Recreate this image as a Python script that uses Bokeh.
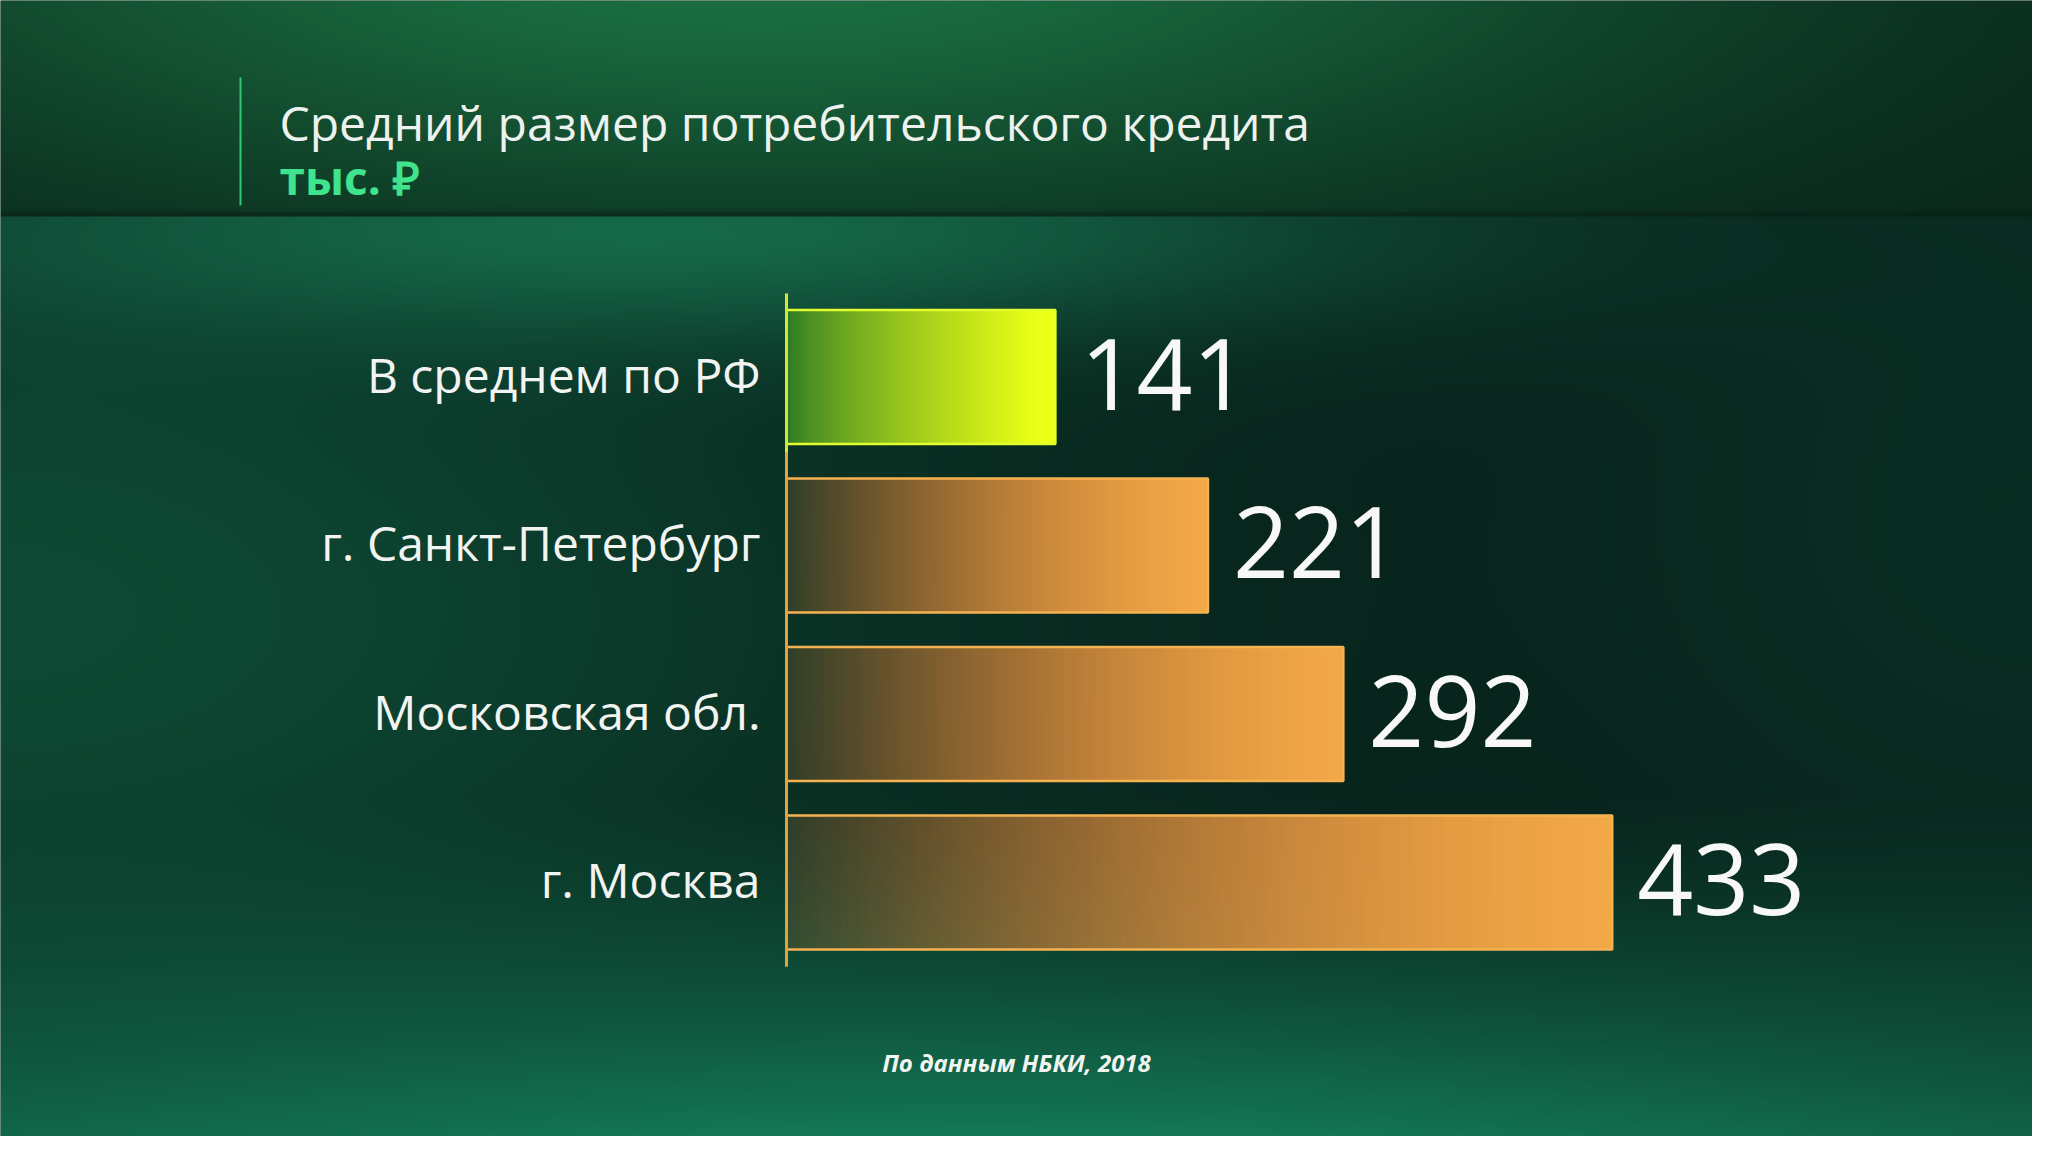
import numpy as np
from bokeh.plotting import figure
from bokeh.models import Range1d, Label
from bokeh.core.properties import value
from bokeh.embed import file_html
from bokeh.resources import INLINE

# ---------------- data ----------------
categories = ["В среднем по РФ", "г. Санкт-Петербург", "Московская обл.", "г. Москва"]
values = [141, 221, 292, 433]
value_labels = ["141", "221", "292", "433"]
title_text = "Средний размер потребительского кредита"
unit_text = "тыс. ₽"
source_text = "По данным НБКИ, 2018"

# ---------------- layout (canvas pixels) ----------------
W, H = 2032, 1136
AXIS_PX = 786          # canvas x of the value axis (value 0)
PX_PER_UNIT = 1.907    # pixels per thousand roubles
ROW_PX = 168.5         # pixels between category rows
BASE_PX = 882          # canvas y of lowest row centre
BAR_H = 0.795          # bar thickness in row units

x_start = -AXIS_PX / PX_PER_UNIT
x_end = (W - AXIS_PX) / PX_PER_UNIT
y_end = BASE_PX / ROW_PX
y_start = -(H - BASE_PX) / ROW_PX


def sx(px):
    return x_start + px / PX_PER_UNIT


def sy(py):
    return (BASE_PX - py) / ROW_PX


n = len(categories)
pos = [n - 1 - i for i in range(n)]

FONT = "Open Sans"

p = figure(width=W, height=H, x_range=Range1d(x_start, x_end), y_range=Range1d(y_start, y_end),
           x_axis_type=None, y_axis_type=None, toolbar_location=None, output_backend="svg",
           min_border=0, outline_line_color=None,
           background_fill_color="#0b2e23", border_fill_color="#0b2e23")
p.grid.visible = False


# ---------------- background ----------------
def to_rgba(rgb, alpha=None):
    h, w = rgb.shape[:2]
    out = np.empty((h, w, 4), dtype=np.uint8)
    out[..., :3] = np.clip(rgb, 0, 255).astype(np.uint8)
    out[..., 3] = 255 if alpha is None else np.clip(alpha * 255, 0, 255).astype(np.uint8)
    return out.view(np.uint32).reshape(h, w)


def lerp(c, col, f):
    return c + (np.array(col, dtype=float) - c) * f[..., None]


GW, GH = 508, 284
gx = (np.arange(GW) + 0.5) * W / GW + 8
gy = (np.arange(GH) + 0.5) * H / GH + 8
X, Y = np.meshgrid(gx, gy)

# header band
hdr = np.ones((GH, GW, 3)) * np.array([9, 36, 26], dtype=float)
f = np.exp(-((X - 760) / 950) ** 2 - ((Y + 40) / 260) ** 2)
hdr = lerp(hdr, (27, 112, 66), f)
edge = np.exp(-((Y - 224) / 5) ** 2)
hdr = lerp(hdr, (7, 28, 20), edge * 0.6)

# main area
main = np.ones((GH, GW, 3)) * np.array([8, 33, 26], dtype=float)
f1 = np.exp(-((X - 0) / 900) ** 2 - ((Y - 620) / 430) ** 2)
main = lerp(main, (14, 74, 53), f1)
f4 = 0.5 * np.exp(-((X - 2048) / 450) ** 2 - ((Y - 520) / 420) ** 2)
main = lerp(main, (12, 58, 44), f4)
f2 = np.exp(-((X - 650) / 760) ** 2 - ((Y - 240) / 110) ** 2)
main = lerp(main, (22, 104, 74), f2)
f3 = np.clip((Y - 800) / 352, 0, 1) ** 1.3 * (0.55 + 0.45 * np.exp(-((X - 1000) / 1100) ** 2))
main = lerp(main, (20, 124, 88), f3)

bg = np.where((Y < 226)[..., None], hdr, main)
bg_img = np.flipud(to_rgba(bg)).copy()
p.image_rgba(image=[bg_img], x=x_start, y=y_start, dw=x_end - x_start, dh=y_end - y_start)

# ---------------- bar gradients ----------------
NG = 256
t = np.linspace(0, 1, NG)


def grad_green():
    tt = np.clip(t * 1.08, 0, 1) ** 0.72
    c0 = np.array([40, 120, 38], dtype=float)
    c1 = np.array([236, 255, 22], dtype=float)
    rgb = c0[None, :] + (c1 - c0)[None, :] * tt[:, None]
    rgb = np.repeat(rgb[None, :, :], 4, axis=0)
    return to_rgba(rgb)


def grad_orange():
    c0 = np.array([190, 110, 50], dtype=float)
    c1 = np.array([244, 170, 72], dtype=float)
    rgb = c0[None, :] + (c1 - c0)[None, :] * t[:, None]
    a = 0.22 + 0.78 * (1 - (1 - t) ** 2.2)
    rgb = np.repeat(rgb[None, :, :], 4, axis=0)
    a = np.repeat(a[None, :], 4, axis=0)
    return to_rgba(rgb, a)


imgs = [grad_green() if i == 0 else grad_orange() for i in range(n)]
p.image_rgba(image=imgs, x=[0] * n, y=[q - BAR_H / 2 for q in pos], dw=values, dh=[BAR_H] * n)

edge_colors = ["#e2ff2e" if i == 0 else "#f6b250" for i in range(n)]
p.hbar(y=pos, left=0, right=values, height=BAR_H, fill_alpha=0,
       line_color=edge_colors, line_width=2.5)

# axis line
p.segment(x0=[0, 0], y0=[pos[0] + 0.496, pos[0] - 0.45], x1=[0, 0], y1=[pos[0] - 0.45, pos[-1] - 0.5],
          line_color=["#d6e436", "#e3a23c"], line_width=3)

# category labels
p.text(x=[0] * n, y=pos, text=categories, x_offset=-26, y_offset=-3,
       text_align="right", text_baseline="middle",
       text_font=value(FONT), text_font_size=value("48px"), text_color="#f2f4f2")

# value labels
p.text(x=values, y=pos, text=value_labels, x_offset=25, y_offset=-3,
       text_align="left", text_baseline="middle",
       text_font=value(FONT), text_font_size=value("98px"), text_color="#f7f8f7")

# ---------------- title block ----------------
p.segment(x0=[sx(240)], y0=[sy(77)], x1=[sx(240)], y1=[sy(205)], line_color="#2fc878", line_width=2)
p.add_layout(Label(x=sx(279), y=sy(122), text=title_text, text_font=FONT, text_font_size="48px",
                   text_color="#eef2ee", text_baseline="alphabetic", text_align="left"))
p.add_layout(Label(x=sx(279), y=sy(176), text=unit_text, text_font=FONT, text_font_size="46px",
                   text_font_style="bold", text_color="#40e48c", text_baseline="alphabetic",
                   text_align="left"))

# source
p.add_layout(Label(x=sx(1016), y=sy(1062), text=source_text, text_font=FONT, text_font_size="24px",
                   text_font_style="bold italic", text_color="#f2f4f2", text_baseline="middle",
                   text_align="center"))

open("out.html", "w").write(file_html(p, INLINE))
